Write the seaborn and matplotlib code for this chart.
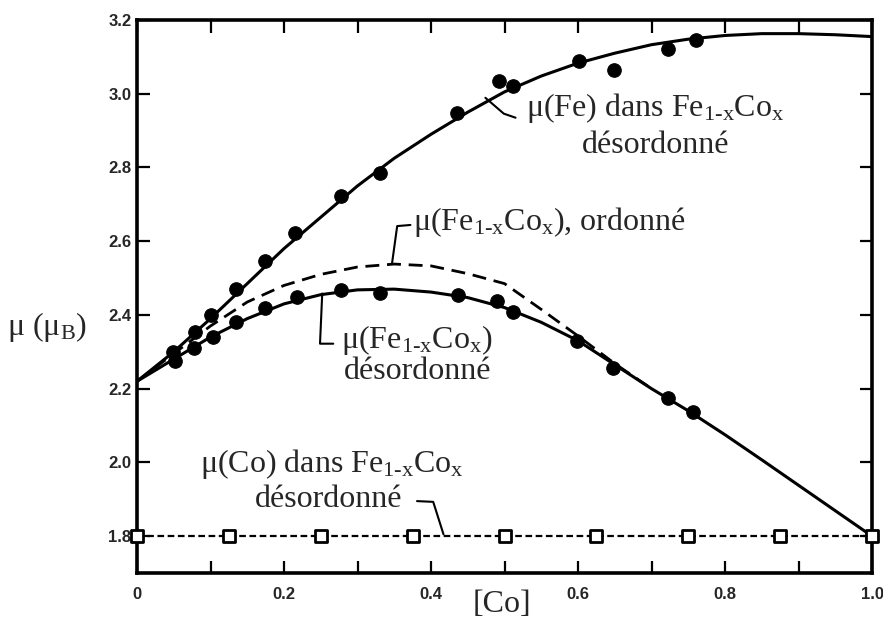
import numpy as np
import pandas as pd
import matplotlib
matplotlib.use("Agg")
import matplotlib.pyplot as plt
import seaborn as sns
from matplotlib.ticker import FixedLocator

# ---------------- data ----------------
# measured points: moment of Fe in disordered Fe1-xCox
fe_x = [0.049, 0.079, 0.101, 0.135, 0.174, 0.215, 0.277, 0.330, 0.436,
        0.492, 0.511, 0.601, 0.649, 0.723, 0.760]
fe_y = [2.300, 2.355, 2.399, 2.469, 2.546, 2.622, 2.722, 2.785, 2.948,
        3.035, 3.020, 3.090, 3.065, 3.120, 3.145]

# measured points: mean moment of disordered Fe1-xCox
alloy_x = [0.052, 0.078, 0.104, 0.135, 0.174, 0.218, 0.277, 0.330, 0.437,
           0.490, 0.511, 0.599, 0.647, 0.722, 0.757]
alloy_y = [2.276, 2.309, 2.341, 2.382, 2.418, 2.448, 2.467, 2.460, 2.455,
           2.439, 2.407, 2.328, 2.257, 2.176, 2.137]

# moment of Co (open squares)
co_x = [0.0, 0.125, 0.25, 0.375, 0.5, 0.625, 0.75, 0.875, 1.0]
co_y = [1.80, 1.80, 1.80, 1.80, 1.80, 1.80, 1.80, 1.80, 1.80]

# calculated curves
curve_x = [0.0, 0.05, 0.10, 0.15, 0.20, 0.25, 0.30, 0.35, 0.40, 0.45, 0.50,
           0.55, 0.60, 0.65, 0.70, 0.75, 0.80, 0.85, 0.90, 0.95, 1.00]
fe_curve = [2.22, 2.30, 2.39, 2.485, 2.58, 2.665, 2.75, 2.825, 2.89, 2.95,
            3.005, 3.048, 3.083, 3.11, 3.133, 3.148, 3.158, 3.163, 3.163,
            3.16, 3.155]
dis_curve = [2.22, 2.28, 2.34, 2.39, 2.43, 2.455, 2.468, 2.47, 2.462, 2.447,
             2.42, 2.38, 2.33, 2.265, 2.20, 2.14, 2.075, 2.007, 1.938, 1.869,
             1.80]
ord_x = [0.0, 0.05, 0.10, 0.15, 0.20, 0.25, 0.30, 0.35, 0.40, 0.45, 0.50,
         0.55, 0.60, 0.65, 0.70]
ord_curve = [2.22, 2.295, 2.37, 2.435, 2.48, 2.51, 2.53, 2.538, 2.533, 2.512,
             2.485, 2.415, 2.343, 2.268, 2.20]

x_ticks = [0.0, 0.2, 0.4, 0.6, 0.8, 1.0]
x_ticklabels = ["0", "0.2", "0.4", "0.6", "0.8", "1.0"]
y_ticks = [1.8, 2.0, 2.2, 2.4, 2.6, 2.8, 3.0, 3.2]
y_ticklabels = ["1.8", "2.0", "2.2", "2.4", "2.6", "2.8", "3.0", "3.2"]

# ---------------- style ----------------
sns.set_style("white")
plt.rcParams["font.family"] = ["Liberation Serif", "DejaVu Serif"]
plt.rcParams["mathtext.fontset"] = "custom"
plt.rcParams["mathtext.rm"] = "Liberation Serif"
plt.rcParams["mathtext.it"] = "Liberation Serif:italic"
plt.rcParams["mathtext.bf"] = "Liberation Serif:bold"

fig = plt.figure(figsize=(8.83, 6.26), dpi=100)
ax = fig.add_axes([137 / 883, 53 / 626, 735 / 883, 553 / 626])

df_curves = pd.DataFrame({"x": curve_x, "fe": fe_curve, "dis": dis_curve})
df_ord = pd.DataFrame({"x": ord_x, "y": ord_curve})
df_fe = pd.DataFrame({"x": fe_x, "y": fe_y})
df_alloy = pd.DataFrame({"x": alloy_x, "y": alloy_y})
df_co = pd.DataFrame({"x": co_x, "y": co_y})

sns.lineplot(data=df_curves, x="x", y="fe", ax=ax, color="black", lw=2.2,
             sort=False, estimator=None)
sns.lineplot(data=df_curves, x="x", y="dis", ax=ax, color="black", lw=2.2,
             sort=False, estimator=None)
sns.lineplot(data=df_ord, x="x", y="y", ax=ax, color="black", lw=2.0,
             sort=False, estimator=None)
ax.lines[-1].set_dashes((5, 2.8))
sns.lineplot(data=df_co, x="x", y="y", ax=ax, color="black", lw=1.6,
             sort=False, estimator=None)
ax.lines[-1].set_dashes((3, 1.6))

sns.scatterplot(data=df_fe, x="x", y="y", ax=ax, color="black", s=95,
                edgecolor="black", zorder=5)
sns.scatterplot(data=df_alloy, x="x", y="y", ax=ax, color="black", s=95,
                edgecolor="black", zorder=5)
sns.scatterplot(data=df_co, x="x", y="y", ax=ax, marker="s",
                facecolor="white", edgecolor="black", linewidth=2.0,
                s=85, zorder=6, clip_on=False)

ax.set_xlim(0, 1.0)
ax.set_ylim(1.70, 3.2)
ax.set_xlabel("")
ax.set_ylabel("")

# ticks
ax.xaxis.set_major_locator(FixedLocator(x_ticks))
ax.xaxis.set_minor_locator(FixedLocator([0.1, 0.3, 0.5, 0.7, 0.9]))
ax.yaxis.set_major_locator(FixedLocator(y_ticks))
ax.set_xticklabels(x_ticklabels)
ax.set_yticklabels(y_ticklabels)
ax.tick_params(which="both", direction="in", length=9, width=1.6,
               top=True, right=True, bottom=True, left=True, color="black")
ax.tick_params(axis="x", pad=10)
ax.tick_params(axis="y", pad=4)
for lab in ax.get_xticklabels() + ax.get_yticklabels():
    lab.set_fontfamily(["Liberation Sans", "DejaVu Sans"])
    lab.set_fontweight("bold")
    lab.set_fontsize(12)

for sp in ax.spines.values():
    sp.set_linewidth(2.6)
    sp.set_color("black")

# ---------------- annotations ----------------
fs = 23
sub = r"$_{\mathrm{1\text{-}x}}$"
subx = r"$_{\mathrm{x}}$"

ax.text(0.529, 2.962, "μ(Fe) dans Fe" + sub + "Co" + subx, fontsize=fs,
        ha="left", va="center")
ax.text(0.705, 2.859, "désordonné", fontsize=fs, ha="center", va="center")
ax.plot([0.474, 0.499, 0.515], [2.989, 2.946, 2.935], color="black", lw=1.5)

ax.text(0.376, 2.652, "μ(Fe" + sub + "Co" + subx + "), ordonné", fontsize=fs,
        ha="left", va="center")
ax.plot([0.347, 0.354, 0.372], [2.540, 2.641, 2.644], color="black", lw=1.5)

ax.text(0.277, 2.331, "μ(Fe" + sub + "Co" + subx + ")", fontsize=fs,
        ha="left", va="center")
ax.text(0.281, 2.246, "désordonné", fontsize=fs, ha="left", va="center")
ax.plot([0.252, 0.249, 0.267], [2.458, 2.322, 2.322], color="black", lw=1.5)

ax.text(0.086, 1.996, "μ(Co) dans Fe" + sub + "Co" + subx, fontsize=fs,
        ha="left", va="center")
ax.text(0.161, 1.900, "désordonné", fontsize=fs, ha="left", va="center")
ax.plot([0.381, 0.403, 0.417], [1.895, 1.893, 1.805], color="black", lw=1.5)

fig.text(47 / 883, 1 - 327 / 626, r"μ (μ$_{\mathrm{B}}$)", fontsize=fs,
         ha="center", va="center")
fig.text(502 / 883, 1 - 604 / 626, "[Co]", fontsize=fs, ha="center",
         va="center")

fig.savefig("out.png", dpi=100)
